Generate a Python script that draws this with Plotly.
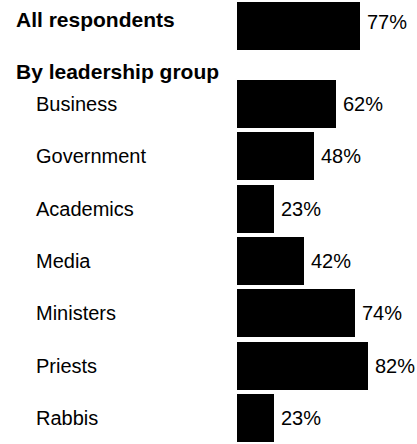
import plotly.graph_objects as go

categories = ["All respondents", "Business", "Government", "Academics",
              "Media", "Ministers", "Priests", "Rabbis"]
values = [77, 62, 48, 23, 42, 74, 82, 23]
header = "By leadership group"

# row positions (top to bottom), header occupies a gap after first row
positions = [0] + [1.5 + i for i in range(len(categories) - 1)]

W, H = 417, 444
FONT = "Liberation Sans, Arial, Helvetica, sans-serif"

fig = go.Figure()
fig.add_trace(go.Bar(
    x=values, y=positions, orientation="h",
    marker=dict(color="#000000", line=dict(width=0)),
    width=0.92, hoverinfo="skip",
))

annotations = []
for i, (cat, v, p) in enumerate(zip(categories, values, positions)):
    bold = i == 0
    annotations.append(dict(
        x=14 / W if bold else 34 / W, xref="paper", xanchor="left",
        y=p, yref="y", yanchor="middle", yshift=6 if bold else 0,
        text=f"<b>{cat}</b>" if bold else cat, showarrow=False,
        font=dict(family=FONT, size=20 if not bold else 21, color="#000"),
    ))
    annotations.append(dict(
        x=v, xref="x", xanchor="left", xshift=5,
        y=p, yref="y", yanchor="middle", yshift=4 if bold else 0,
        text=f"{v}%", showarrow=False,
        font=dict(family=FONT, size=20, color="#000"),
    ))
annotations.append(dict(
    x=14 / W, xref="paper", xanchor="left",
    y=0.87, yref="y", yanchor="middle",
    text=f"<b>{header}</b>", showarrow=False,
    font=dict(family=FONT, size=21, color="#000"),
))

fig.update_layout(
    width=W, height=H,
    margin=dict(l=0, r=0, t=0, b=0),
    paper_bgcolor="white", plot_bgcolor="white",
    showlegend=False,
    xaxis=dict(domain=[237 / W, 1], range=[0, 180 / 1.6], visible=False, fixedrange=True),
    yaxis=dict(range=[8.0, -0.49], visible=False, fixedrange=True),
    annotations=annotations,
    bargap=0,
)

fig.write_html("out.html", config={"displayModeBar": False},
               post_script="document.body.style.margin='0';document.body.style.overflow='hidden';")
